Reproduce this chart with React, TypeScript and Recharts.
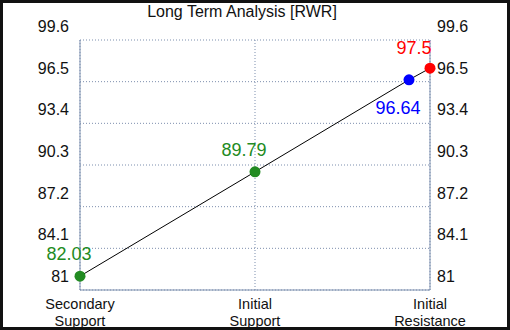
import React from "react";
import {
  ComposedChart,
  Line,
  XAxis,
  YAxis,
  CartesianGrid,
} from "recharts";

const categories = ["Secondary Support", "Initial Support", "Initial Resistance"];
const categoryPositions = [0, 1, 2];
const pointPositions = [0, 1, 1.88, 2];
const pointValues = [82.03, 89.79, 96.64, 97.5];
const yTicks = [81, 84.1, 87.2, 90.3, 93.4, 96.5, 99.6];

const pointColors = ["#228b22", "#228b22", "#0000ff", "#ff0000"];
const labelOffsets = [
  { dx: -11, dy: -16 },
  { dx: -11, dy: -16 },
  { dx: -11, dy: 34 },
  { dx: -16, dy: -14 },
];

const data = pointPositions.map((pos, i) => ({ pos, value: pointValues[i] }));

const FONT = '"Liberation Sans", Arial, sans-serif';
const AXIS = "#7d8fae";

const PointDot = (props: any) => {
  const { cx, cy, index } = props;
  const off = labelOffsets[index];
  return (
    <g key={`dot-${index}`}>
      <circle cx={cx} cy={cy} r={5.5} fill={pointColors[index]} />
      <text
        x={cx + off.dx}
        y={cy + off.dy}
        textAnchor="middle"
        fontSize={18}
        fontFamily={FONT}
        fill={pointColors[index]}
      >
        {pointValues[index]}
      </text>
    </g>
  );
};

const YTick = (props: any) => {
  const { x, y, payload, textAnchor } = props;
  return (
    <text
      x={x}
      y={y - 8}
      textAnchor={textAnchor}
      fontSize={16}
      fontFamily={FONT}
      fill="#111"
    >
      {payload.value}
    </text>
  );
};

const XTick = (props: any) => {
  const { x, y, payload } = props;
  const idx = categoryPositions.indexOf(payload.value);
  const words = (categories[idx] || "").split(" ");
  return (
    <g>
      <text
        x={x}
        y={y + 19}
        textAnchor="middle"
        fontSize={14.5}
        fontFamily={FONT}
        fill="#111"
      >
        {words[0]}
      </text>
      <text
        x={x}
        y={y + 35.5}
        textAnchor="middle"
        fontSize={14.5}
        fontFamily={FONT}
        fill="#111"
      >
        {words.slice(1).join(" ")}
      </text>
    </g>
  );
};

const App = () => {
  return (
    <div
      style={{
        position: "fixed",
        left: 0,
        top: 0,
        width: 510,
        height: 330,
        background: "#fff",
      }}
    >
      <ComposedChart
        width={510}
        height={330}
        data={data}
        margin={{ top: 40, right: 0, bottom: 0, left: 0 }}
      >
        <CartesianGrid
          stroke={AXIS}
          strokeDasharray="1 2"
          yAxisId="left"
        />
        <XAxis
          dataKey="pos"
          type="number"
          domain={[0, 2]}
          ticks={categoryPositions}
          interval={0}
          height={40}
          tickSize={0}
          tickMargin={0}
          stroke={AXIS}
          tickLine={false}
          tick={<XTick />}
        />
        <YAxis
          yAxisId="left"
          orientation="left"
          type="number"
          domain={[81, 99.6]}
          ticks={yTicks}
          interval={0}
          width={80}
          tickSize={0}
          tickMargin={11}
          stroke={AXIS}
          tickLine={false}
          tick={<YTick />}
        />
        <YAxis
          yAxisId="right"
          orientation="right"
          type="number"
          domain={[81, 99.6]}
          ticks={yTicks}
          interval={0}
          width={80}
          tickSize={0}
          tickMargin={7}
          stroke={AXIS}
          tickLine={false}
          tick={<YTick />}
        />
        <Line
          yAxisId="right"
          dataKey="value"
          type="linear"
          stroke="none"
          dot={false}
          activeDot={false}
          legendType="none"
          isAnimationActive={false}
        />
        <Line
          yAxisId="left"
          dataKey="value"
          type="linear"
          stroke="#000"
          strokeWidth={1}
          dot={(p: any) => <PointDot {...p} key={`d${p.index}`} />}
          activeDot={false}
          isAnimationActive={false}
        />
      </ComposedChart>
      <svg
        width={510}
        height={330}
        style={{ position: "absolute", left: 0, top: 0, pointerEvents: "none" }}
      >
        <text
          x={242}
          y={16.5}
          textAnchor="middle"
          fontSize={16}
          fontFamily={FONT}
          fill="#111"
        >
          Long Term Analysis [RWR]
        </text>
      </svg>
      <div
        style={{
          position: "absolute",
          left: 0,
          top: 0,
          width: 510,
          height: 330,
          boxSizing: "border-box",
          border: "3px solid #111",
          pointerEvents: "none",
        }}
      />
    </div>
  );
};

export default App;
